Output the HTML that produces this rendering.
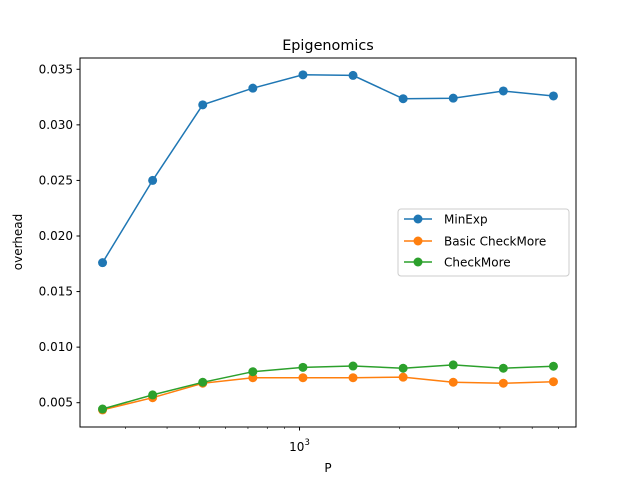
<!DOCTYPE html>
<html><head><meta charset="utf-8"><style>
body{margin:0;background:#fff;}
svg text{font-family:"DejaVu Sans","Liberation Sans",sans-serif;fill:#000;}
</style></head><body>
<svg id="chart" width="640" height="480" xmlns="http://www.w3.org/2000/svg">
<rect width="640" height="480" fill="#fff"/>
<text x="328" y="50" font-size="14.4" text-anchor="middle">Epigenomics</text>
<g id="plot"></g>
<text x="328" y="472" font-size="12" text-anchor="middle">P</text>
<text x="22" y="242" font-size="12" text-anchor="middle" transform="rotate(-90 22 242)">overhead</text>
<rect x="80" y="58" width="496" height="369" fill="none" stroke="#000" stroke-width="1"/>
<g>
<rect x="398" y="209" width="171" height="67" rx="3" fill="#fff" fill-opacity="0.8" stroke="#ccc"/>
<g><line x1="404" y1="219" x2="432" y2="219" stroke="#1f77b4" stroke-width="1.5"/><circle cx="418" cy="219" r="4.5" fill="#1f77b4"/><text x="444" y="223.5" font-size="12">MinExp</text></g>
<g><line x1="404" y1="241" x2="432" y2="241" stroke="#ff7f0e" stroke-width="1.5"/><circle cx="418" cy="241" r="4.5" fill="#ff7f0e"/><text x="444" y="245.5" font-size="12">Basic CheckMore</text></g>
<g><line x1="404" y1="262" x2="432" y2="262" stroke="#2ca02c" stroke-width="1.5"/><circle cx="418" cy="262" r="4.5" fill="#2ca02c"/><text x="444" y="266.5" font-size="12">CheckMore</text></g>
</g>
</svg>
<script>
const pValues = [256, 362, 512, 724, 1024, 1448, 2048, 2896, 4096, 5793];
const minExp = [0.0176, 0.0250, 0.0318, 0.0333, 0.0345, 0.03445, 0.03235, 0.0324, 0.03305, 0.0326];
const basicCheckMore = [0.00435, 0.00545, 0.00675, 0.00725, 0.00725, 0.00725, 0.0073, 0.00684, 0.00675, 0.00689];
const checkMore = [0.00443, 0.0057, 0.00684, 0.00779, 0.00818, 0.0083, 0.0081, 0.0084, 0.0081, 0.00828];
const yTicks = [0.005, 0.010, 0.015, 0.020, 0.025, 0.030, 0.035];
const yTickLabels = ["0.005", "0.010", "0.015", "0.020", "0.025", "0.030", "0.035"];
const xMinorTicks = [300, 400, 500, 600, 700, 800, 900, 2000, 3000, 4000, 5000, 6000];

const NS = "http://www.w3.org/2000/svg";
const lmin = Math.log10(pValues[0]), lmax = Math.log10(pValues[pValues.length-1]);
const m = (lmax - lmin) * 0.05;
function xs(v){ return 80 + (Math.log10(v) - (lmin - m)) / ((lmax + m) - (lmin - m)) * 496; }
function ys(v){ return 402.7 - (v - 0.005) * 11114; }
const g = document.getElementById('plot');
function mk(tag, attrs){ const e = document.createElementNS(NS, tag); for (const k in attrs) e.setAttribute(k, attrs[k]); return e; }

yTicks.forEach((t, i) => {
  const y = ys(t);
  const tk = mk('line', {x1: 76.5, x2: 80, y1: y, y2: y, stroke: '#000'});
  
  
  g.appendChild(tk);
  const tx = mk('text', {x: 73, y: y + 4, 'font-size': 12, 'text-anchor': 'end'});
  tx.textContent = yTickLabels[i];
  
  
  g.appendChild(tx);
});
xMinorTicks.forEach(t => {
  const x = xs(t);
  const tk = mk('line', {x1: x, x2: x, y1: 427, y2: 429, stroke: '#000', 'stroke-width': 0.6});
  
  
  g.appendChild(tk);
});
{
  const x = xs(1000);
  const tk = mk('line', {x1: x, x2: x, y1: 427, y2: 430.5, stroke: '#000'});
  
  
  g.appendChild(tk);
  const tx = mk('text', {x: x, y: 451, 'font-size': 12, 'text-anchor': 'middle'});
  tx.textContent = '10';
  
  
  const sup = mk('tspan', {dy: -6, 'font-size': 8.5});
  sup.textContent = '3';
  tx.appendChild(sup);
  g.appendChild(tx);
}
function series(vals, color, name){
  const pts = vals.map((v, i) => xs(pValues[i]).toFixed(1) + ',' + ys(v).toFixed(1)).join(' ');
  const pl = mk('polyline', {points: pts, fill: 'none', stroke: color, 'stroke-width': 1.5});
  
  
  g.appendChild(pl);
  vals.forEach((v, i) => {
    const c = mk('circle', {cx: xs(pValues[i]), cy: ys(v), r: 4.5, fill: color});
    
    
    g.appendChild(c);
  });
}
series(minExp, '#1f77b4', 'minexp');
series(basicCheckMore, '#ff7f0e', 'basic-checkmore');
series(checkMore, '#2ca02c', 'checkmore');
</script>
</body></html>
